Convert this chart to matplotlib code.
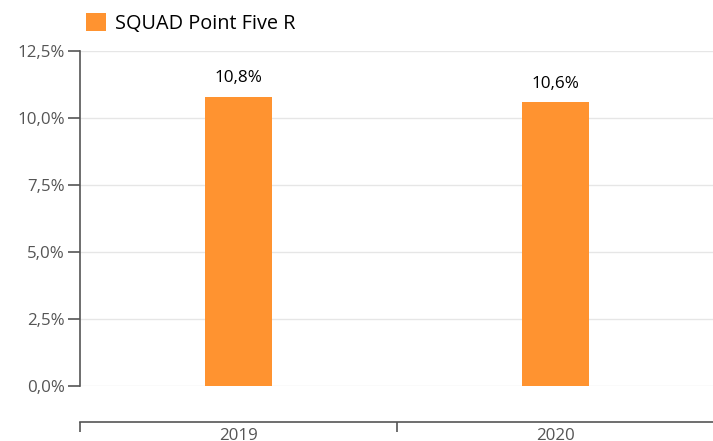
import matplotlib
matplotlib.use("Agg")
import matplotlib.pyplot as plt
from matplotlib.patches import Patch
from matplotlib.ticker import FixedLocator, NullFormatter

plt.rcParams['font.family'] = ['Open Sans', 'DejaVu Sans']

categories = ["2019", "2020"]
values = [10.8, 10.6]
series_name = "SQUAD Point Five R"
y_ticks = [0, 2.5, 5.0, 7.5, 10.0, 12.5]
y_tick_labels = ["0,0%", "2,5%", "5,0%", "7,5%", "10,0%", "12,5%"]
value_labels = ["10,8%", "10,6%"]

W, H = 713, 441
fig = plt.figure(figsize=(W / 100, H / 100), dpi=100)
ax = fig.add_axes([80 / W, 1 - 386 / H, (714 - 80) / W, (386 - 51) / H])

color = "#ff9330"
x = list(range(len(categories)))
ax.bar(x, values, width=0.21, color=color, zorder=3)
for xi, v, lab in zip(x, values, value_labels):
    ax.annotate(lab, (xi, v), xytext=(0, 7.5), textcoords="offset points",
                ha="center", va="bottom", fontsize=12.3, color="black")

ax.set_xlim(-0.5, len(categories) - 0.5)
ax.set_ylim(0, 12.5)
ax.set_yticks(y_ticks)
ax.set_yticklabels(y_tick_labels)
ax.yaxis.grid(True, color="#e6e6e6", linewidth=1, zorder=0)
ax.set_axisbelow(True)

for s in ["top", "right"]:
    ax.spines[s].set_visible(False)
ax.spines["left"].set_color("#555555")
ax.spines["left"].set_linewidth(1.2)
ax.spines["bottom"].set_position(("outward", 26))
ax.spines["bottom"].set_color("#555555")
ax.spines["bottom"].set_linewidth(1.2)

ax.tick_params(axis="y", length=9, width=1.2, color="#555555", labelcolor="#555555",
               labelsize=12.2, pad=2)
bounds = [i - 0.5 for i in range(len(categories) + 1)]
ax.xaxis.set_major_locator(FixedLocator(bounds))
ax.xaxis.set_major_formatter(NullFormatter())
ax.xaxis.set_minor_locator(FixedLocator(x))
ax.set_xticklabels(categories, minor=True)
ax.tick_params(axis="x", which="major", length=7, width=1.2, color="#555555")
ax.tick_params(axis="x", which="minor", length=0, labelcolor="#555555",
               labelsize=12.2, pad=4)

handle = Patch(facecolor=color, edgecolor="none")
fig.legend([handle], [series_name], loc="upper left",
           bbox_to_anchor=(86 / W, 1 - 13 / H), frameon=False,
           fontsize=14.3, handlelength=1.0, handleheight=1.0, handletextpad=0.45,
           borderaxespad=0, borderpad=0)

fig.savefig("out.png", dpi=100)
